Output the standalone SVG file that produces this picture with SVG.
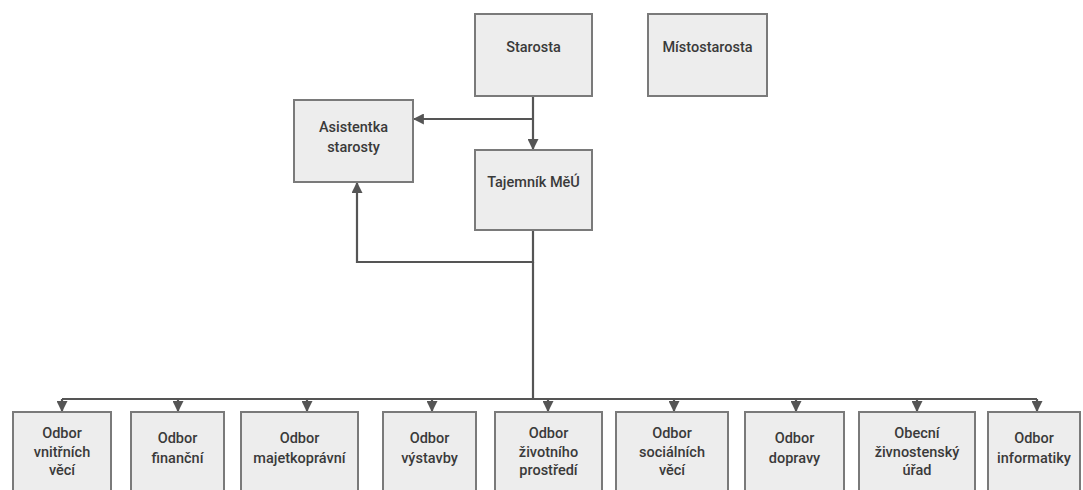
<svg xmlns="http://www.w3.org/2000/svg" width="1083" height="490" viewBox="0 0 1083 490">
<style>
.box{fill:#ededed;stroke:#7a7a7a;stroke-width:2}
.t{font-family:Roboto,"Liberation Sans",Arial,sans-serif;font-weight:500;font-size:14.5px;fill:#3a3a3a;text-anchor:middle}
.c{fill:none;stroke:#555;stroke-width:2.2}
</style>
<defs>
<marker id="ah" viewBox="0 0 10 10" refX="9" refY="5" markerWidth="11" markerHeight="11" markerUnits="userSpaceOnUse" orient="auto">
<path d="M0,0 L10,5 L0,10 Z" fill="#555"/>
</marker>
</defs>
<rect width="1083" height="490" fill="#fff"/>
<g id="connectors">
<path class="c" d="M533,96 V149" marker-end="url(#ah)"/>
<path class="c" d="M533,119 H414" marker-end="url(#ah)"/>
<path class="c" d="M533,230 V262 H357 V183" marker-end="url(#ah)"/>
<path class="c" d="M533,262 V399"/>
<path class="c" d="M62,399 H1037"/>
<path class="c" d="M62,399 V411" marker-end="url(#ah)"/>
<path class="c" d="M178,399 V411" marker-end="url(#ah)"/>
<path class="c" d="M307,399 V411" marker-end="url(#ah)"/>
<path class="c" d="M432,399 V411" marker-end="url(#ah)"/>
<path class="c" d="M548,399 V411" marker-end="url(#ah)"/>
<path class="c" d="M674,399 V411" marker-end="url(#ah)"/>
<path class="c" d="M796,399 V411" marker-end="url(#ah)"/>
<path class="c" d="M917,399 V411" marker-end="url(#ah)"/>
<path class="c" d="M1037,399 V411" marker-end="url(#ah)"/>
</g>
<g id="starosta"><rect class="box" x="475" y="14" width="117" height="82"/><text class="t" x="533.5" y="52">Starosta</text></g>
<g id="mistostarosta"><rect class="box" x="648" y="14" width="119" height="82"/><text class="t" x="707.5" y="52">Místostarosta</text></g>
<g id="asistentka"><rect class="box" x="294" y="100" width="119" height="82"/><text class="t" x="353.5" y="132">Asistentka</text><text class="t" x="353.5" y="152">starosty</text></g>
<g id="tajemnik"><rect class="box" x="475" y="150" width="117" height="80"/><text class="t" x="533.5" y="187">Tajemník MěÚ</text></g>
<g id="odbor1"><rect class="box" x="13" y="412" width="98" height="90"/><text class="t" x="62" y="438">Odbor</text><text class="t" x="62" y="457">vnitřních</text><text class="t" x="62" y="475">věcí</text></g>
<g id="odbor2"><rect class="box" x="131" y="412" width="93" height="90"/><text class="t" x="177.5" y="443">Odbor</text><text class="t" x="177.5" y="463">finanční</text></g>
<g id="odbor3"><rect class="box" x="241" y="412" width="117" height="90"/><text class="t" x="299.5" y="443">Odbor</text><text class="t" x="299.5" y="463">majetkoprávní</text></g>
<g id="odbor4"><rect class="box" x="383" y="412" width="93" height="90"/><text class="t" x="429.5" y="443">Odbor</text><text class="t" x="429.5" y="463">výstavby</text></g>
<g id="odbor5"><rect class="box" x="495" y="412" width="107" height="90"/><text class="t" x="548.5" y="438">Odbor</text><text class="t" x="548.5" y="457">životního</text><text class="t" x="548.5" y="475">prostředí</text></g>
<g id="odbor6"><rect class="box" x="616" y="412" width="112" height="90"/><text class="t" x="672" y="438">Odbor</text><text class="t" x="672" y="457">sociálních</text><text class="t" x="672" y="475">věcí</text></g>
<g id="odbor7"><rect class="box" x="745" y="412" width="99" height="90"/><text class="t" x="794.5" y="443">Odbor</text><text class="t" x="794.5" y="463">dopravy</text></g>
<g id="odbor8"><rect class="box" x="859" y="412" width="116" height="90"/><text class="t" x="917" y="438">Obecní</text><text class="t" x="917" y="457">živnostenský</text><text class="t" x="917" y="475">úřad</text></g>
<g id="odbor9"><rect class="box" x="988" y="412" width="92" height="90"/><text class="t" x="1034" y="443">Odbor</text><text class="t" x="1034" y="463">informatiky</text></g>
</svg>
